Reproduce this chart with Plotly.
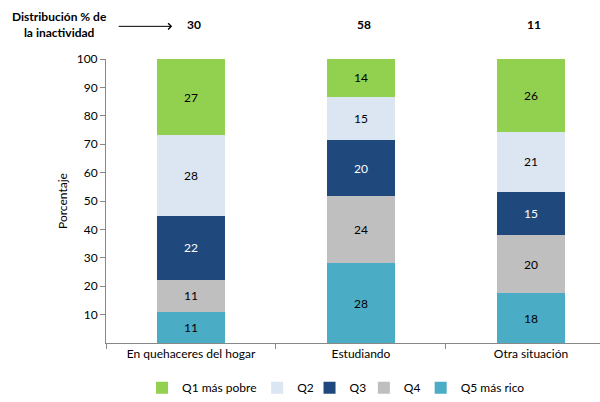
import plotly.graph_objects as go

categorias = ["En quehaceres del hogar", "Estudiando", "Otra situación"]
distribucion = [30, 58, 11]

# stacked from bottom (Q5) to top (Q1)
series = ["Q5 más rico", "Q4", "Q3", "Q2", "Q1 más pobre"]
q5 = [10.9, 28.1, 17.6]
q4 = [11.4, 23.6, 20.3]
q3 = [22.4, 19.7, 15.4]
q2 = [28.4, 15.2, 21.0]
q1 = [26.9, 13.6, 25.7]
valores = [q5, q4, q3, q2, q1]

colores = ["#4BACC6", "#BFBFBF", "#1F497D", "#DCE6F2", "#92D050"]
color_texto = ["black", "black", "white", "black", "black"]
# one small legend per series so the entries can sit like the original
leyendas = ["legend5", "legend4", "legend3", "legend2", "legend"]
leyenda_x = [0.637, 0.522, 0.412, 0.306, 0.073]

FONT = "Lato"

fig = go.Figure()
for nombre, vals, col, tcol, lg in zip(series, valores, colores, color_texto, leyendas):
    fig.add_trace(go.Bar(
        x=categorias, y=vals, name=nombre, legend=lg,
        marker=dict(color=col, line=dict(width=0)),
        width=0.4,
        texttemplate="%{y:.0f}", textposition="inside",
        insidetextanchor="middle",
        textfont=dict(color=tcol, size=12, family=FONT),
        hoverinfo="skip",
    ))

for cat, d in zip(categorias, distribucion):
    fig.add_annotation(x=cat, y=1.12, xref="x", yref="paper", text=f"<b>{d}</b>",
                       xanchor="center", yanchor="middle",
                       showarrow=False, xshift=3, font=dict(size=12, color="black", family=FONT))

fig.add_annotation(x=-0.095, y=1.12, xref="paper", yref="paper",
                   xanchor="center", yanchor="middle",
                   text="<b>Distribución % de<br>la inactividad</b>", showarrow=False,
                   align="center", font=dict(size=12, color="black", family=FONT))
fig.add_annotation(x=0.134, y=1.115, ax=-55, ay=0, xref="paper", yref="paper",
                   text="", showarrow=True,
                   arrowhead=4, arrowsize=1.2, arrowwidth=1, arrowcolor="black")

leg_common = dict(orientation="h", xanchor="left", y=-0.2087, yanchor="bottom",
                  font=dict(size=12, family=FONT), bgcolor="rgba(0,0,0,0)")
layout_leg = {}
for lg, lx in zip(leyendas, leyenda_x):
    layout_leg[lg] = dict(x=lx, **leg_common)

fig.update_layout(
    barmode="stack",
    width=600, height=402,
    margin=dict(l=106, r=0, t=58.5, b=59.3, autoexpand=False),
    paper_bgcolor="white", plot_bgcolor="white",
    font=dict(family=FONT, size=12, color="black"),
    showlegend=True,
    xaxis=dict(range=[-0.5, 2.406], showline=True, linecolor="#888888", linewidth=1,
               ticks="outside", tickson="boundaries", ticklen=5, tickcolor="#888888",
               showgrid=False, tickfont=dict(size=12), automargin=False),
    yaxis=dict(range=[0, 100], tickvals=list(range(10, 101, 10)), showline=True,
               linecolor="#888888", linewidth=1, ticks="outside", ticklen=5,
               tickcolor="#888888", showgrid=False, zeroline=False, automargin=False,
               title=dict(text="Porcentaje", font=dict(size=12), standoff=6),
               tickfont=dict(size=12)),
    **layout_leg,
)

# page body has a default 8px margin; drop it so the figure fills the window
fig.write_html("out.html", config={"displayModeBar": False},
               post_script="document.body.style.margin='0';")
